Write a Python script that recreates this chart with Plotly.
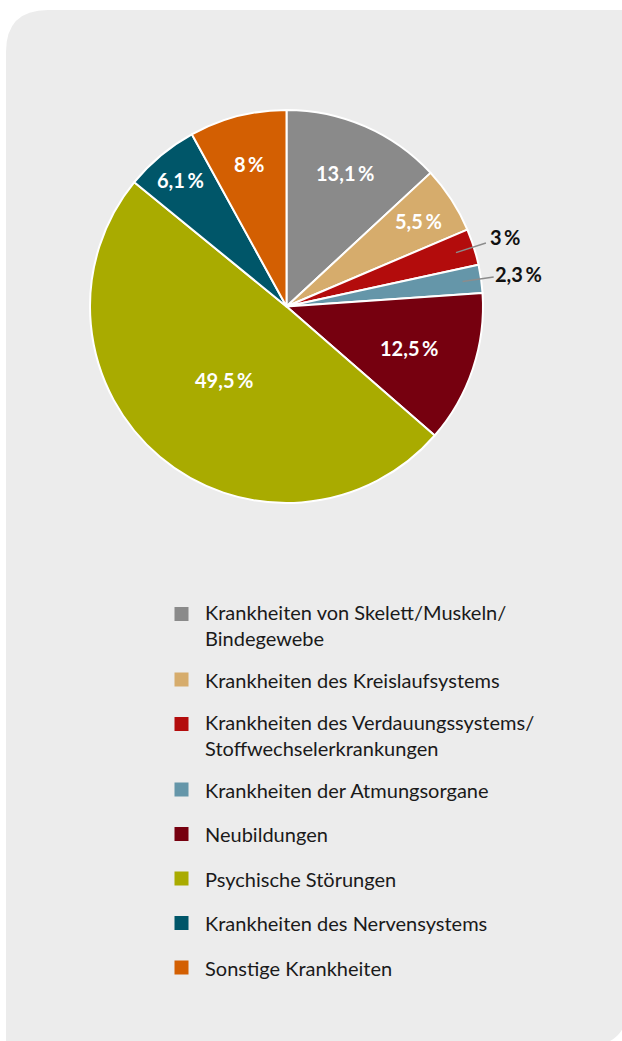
import numpy as np
import plotly.graph_objects as go

# ---------------- data ----------------
categories = [
    "Krankheiten von Skelett/Muskeln/Bindegewebe",
    "Krankheiten des Kreislaufsystems",
    "Krankheiten des Verdauungssystems/Stoffwechselerkrankungen",
    "Krankheiten der Atmungsorgane",
    "Neubildungen",
    "Psychische Störungen",
    "Krankheiten des Nervensystems",
    "Sonstige Krankheiten",
]
shares = [13.1, 5.5, 3.0, 2.3, 12.5, 49.5, 6.1, 8.0]
colors = ["#8a8a8a", "#d6ac6c", "#b30c0c", "#6596a9", "#76000f", "#a9ab00", "#005669", "#d35f02"]

# ---------------- layout constants ----------------
W, H = 622, 1041
CX, CY, R = 286.5, 306.5, 196.5
PANEL = "#ececec"
# radial position of each label (fraction of radius) and whether it is outside
label_r = [0.74, 0.80, 1.17, 1.19, 0.66, 0.49, 0.84, 0.75]
outside = [False, False, True, True, False, False, False, False]
LABEL_FONT = "Lato, sans-serif"
LEGEND_FONT = "Lato, Open Sans, sans-serif"
LEG_SIZE = 20


def px(x):
    return x / W


def py(y):
    return 1 - y / H


def fmt(v):
    s = f"{v:g}".replace(".", ",")
    return s + "\u2009%"


def wrap(t):
    if len(t) > 34 and "/" in t:
        i = t.rfind("/", 0, 34)
        return [t[: i + 1], t[i + 1:]]
    return [t]


fig = go.Figure()

fig.add_trace(go.Pie(
    labels=categories,
    values=shares,
    marker=dict(colors=colors, line=dict(color="white", width=2)),
    sort=False,
    direction="clockwise",
    rotation=0,
    textinfo="none",
    hovertemplate="%{label}: %{value}%<extra></extra>",
    domain=dict(x=[px(CX - R), px(CX + R)], y=[py(CY + R), py(CY - R)]),
    showlegend=False,
))

shapes = []
annotations = []

# background panel with rounded top-left and bottom-right corners
L, T, RR, B, rad = 6, 10, 628, 1046, 42
path = (
    f"M {px(L)},{py(T + rad)} "
    f"Q {px(L)},{py(T)} {px(L + rad)},{py(T)} "
    f"L {px(RR)},{py(T)} "
    f"L {px(RR)},{py(B - rad)} "
    f"Q {px(RR)},{py(B)} {px(RR - rad)},{py(B)} "
    f"L {px(L)},{py(B)} Z"
)
shapes.append(dict(type="path", path=path, xref="paper", yref="paper",
                   fillcolor=PANEL, line=dict(width=0), layer="below"))

# slice labels
total = float(np.sum(shares))
cum = np.cumsum([0] + shares[:-1])
for i, v in enumerate(shares):
    mid = (cum[i] + v / 2) / total * 2 * np.pi
    sx, sy = np.sin(mid), -np.cos(mid)
    lx, ly = CX + sx * R * label_r[i], CY + sy * R * label_r[i]
    if outside[i]:
        x0, y0 = CX + sx * R * 0.905, CY + sy * R * 0.905
        x1, y1 = CX + sx * R * 1.065, CY + sy * R * 1.065
        shapes.append(dict(type="line", xref="paper", yref="paper",
                           x0=px(x0), y0=py(y0), x1=px(x1), y1=py(y1),
                           line=dict(color="#8c8c8c", width=1.5)))
        col = "#111111"
    else:
        col = "white"
    annotations.append(dict(
        x=px(lx), y=py(ly), xref="paper", yref="paper",
        text=fmt(v), showarrow=False, xanchor="center", yanchor="middle",
        font=dict(family=LABEL_FONT, size=20, color=col, weight="bold"),
    ))

# legend
MX, MS, TX = 181.5, 14, 203
y = 614
for i, name in enumerate(categories):
    lines = wrap(name)
    shapes.append(dict(type="rect", xref="paper", yref="paper",
                       x0=px(MX - MS / 2), x1=px(MX + MS / 2),
                       y0=py(y - MS / 2), y1=py(y + MS / 2),
                       fillcolor=colors[i], line=dict(width=0)))
    annotations.append(dict(
        x=px(TX), y=py(y + (len(lines) - 1) * 10.5), xref="paper", yref="paper",
        text="<br>".join(lines), showarrow=False, xanchor="left", yanchor="middle",
        align="left",
        font=dict(family=LEGEND_FONT, size=LEG_SIZE, color="#1a1a1a"),
    ))
    y += 44.5 + 21 * (len(lines) - 1)

fig.update_layout(
    width=W, height=H,
    margin=dict(l=0, r=0, t=0, b=0),
    paper_bgcolor="white",
    plot_bgcolor="white",
    shapes=shapes,
    annotations=annotations,
    showlegend=False,
)

fig.write_html(
    "out.html",
    config={"displayModeBar": False},
    post_script="document.body.style.margin='0';document.body.style.overflow='hidden';",
)
